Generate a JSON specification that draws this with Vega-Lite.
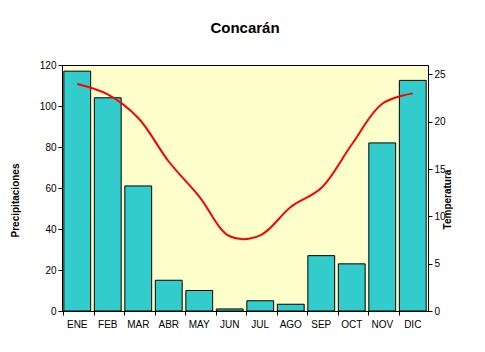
{
  "$schema": "https://vega.github.io/schema/vega-lite/v6.json",
  "width": 366,
  "height": 246,
  "autosize": {"type": "none"},
  "padding": {"left": 62, "top": 65, "right": 57, "bottom": 41},
  "background": "white",
  "title": {"text": "Concarán", "font": "Liberation Sans", "fontSize": 15, "fontWeight": "bold", "color": "black", "offset": 24, "anchor": "middle"},
  "data": {"values": [
    {"mes": "ENE", "precip": 117, "temp": 24.0},
    {"mes": "FEB", "precip": 104, "temp": 22.9},
    {"mes": "MAR", "precip": 61, "temp": 20.4},
    {"mes": "ABR", "precip": 15, "temp": 15.8},
    {"mes": "MAY", "precip": 10, "temp": 12.1},
    {"mes": "JUN", "precip": 1, "temp": 7.9},
    {"mes": "JUL", "precip": 5, "temp": 8.0},
    {"mes": "AGO", "precip": 3.3, "temp": 11.0},
    {"mes": "SEP", "precip": 27, "temp": 13.0},
    {"mes": "OCT", "precip": 23, "temp": 17.6},
    {"mes": "NOV", "precip": 82, "temp": 21.9},
    {"mes": "DIC", "precip": 112.5, "temp": 23.0}
  ]},
  "encoding": {
    "x": {"field": "mes", "type": "nominal", "sort": null,
      "scale": {"paddingInner": 0.12, "paddingOuter": 0.06},
      "axis": {"title": null, "labelAngle": 0, "bandPosition": 0, "tickSize": 4, "labelPadding": 4}}
  },
  "layer": [
    {
      "mark": {"type": "bar", "fill": "#33CCCC", "stroke": "black", "strokeWidth": 1},
      "encoding": {
        "y": {"field": "precip", "type": "quantitative", "scale": {"domain": [0, 120], "nice": false},
          "axis": {"title": "Precipitaciones", "values": [0, 20, 40, 60, 80, 100, 120], "titlePadding": 19, "titleY": 135, "titleFontWeight": "bold"}}
      }
    },
    {
      "mark": {"type": "line", "color": "#FF0000", "strokeWidth": 2, "interpolate": "catmull-rom"},
      "encoding": {
        "y": {"field": "temp", "type": "quantitative", "scale": {"domain": [0, 26], "nice": false},
          "axis": {"title": "Temperatura", "orient": "right", "values": [0, 5, 10, 15, 20, 25], "titleAngle": 270, "titleX": 24, "titleY": 134, "titleFontWeight": "bold"}}
      }
    }
  ],
  "resolve": {"scale": {"y": "independent"}},
  "config": {
    "view": {"fill": "#FFFFCC", "stroke": "black", "strokeWidth": 1},
    "axis": {"grid": false, "domainColor": "black", "tickColor": "black", "labelColor": "black", "titleColor": "black",
      "labelFont": "Liberation Sans", "titleFont": "Liberation Sans", "labelFontSize": 10, "titleFontSize": 10, "tickSize": 4}
  }
}
